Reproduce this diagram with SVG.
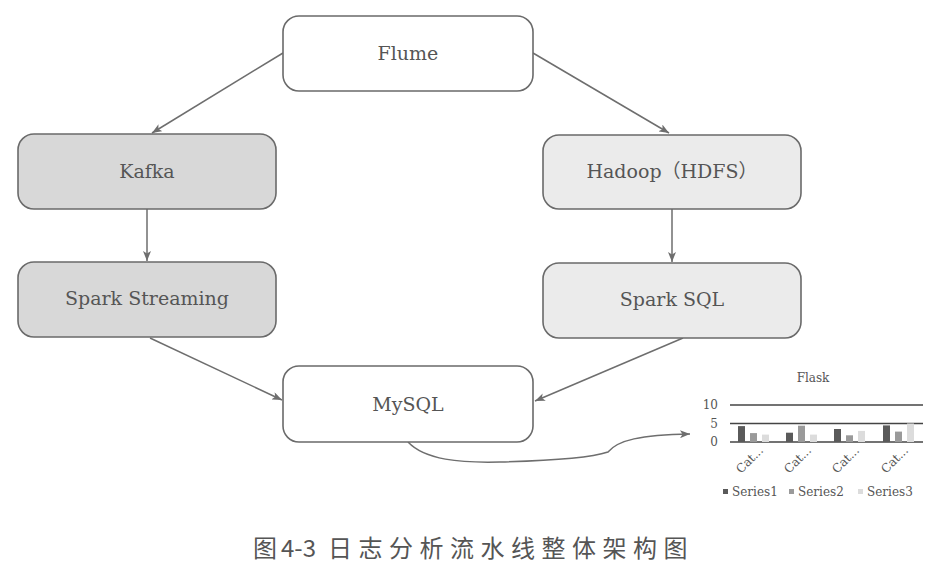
<svg xmlns="http://www.w3.org/2000/svg" width="937" height="576" viewBox="0 0 937 576">
<defs>
<style>
.node rect{stroke:#6a6a6a;stroke-width:1.6}
.white{fill:#ffffff}
.dark{fill:#d8d8d8}
.light{fill:#ebebeb}
.lbl{font-family:"DejaVu Serif","Noto Sans CJK SC",serif;font-size:19px;fill:#555;text-anchor:middle;dominant-baseline:central}
.conn path,.conn line{stroke:#6e6e6e;stroke-width:1.5;fill:none}
.ch{font-family:"DejaVu Serif",serif;font-size:12px;fill:#555}
.grid{stroke:#444;stroke-width:1.6}
.s1{fill:#5a5a5a}
.s2{fill:#9a9a9a}
.s3{fill:#dcdcdc}
.cap{font-family:"Noto Sans CJK SC","Noto Sans",sans-serif;font-size:24px;fill:#555}
</style>
<marker id="arr" viewBox="0 0 10 8" refX="10" refY="4" markerWidth="10" markerHeight="8" markerUnits="userSpaceOnUse" orient="auto">
<path d="M0,0 L10,4 L0,8 L2.5,4 Z" fill="#6e6e6e"/>
</marker>
</defs>
<rect width="937" height="576" fill="#ffffff"/>

<g class="conn">
<line x1="283" y1="53" x2="152" y2="133" marker-end="url(#arr)"/>
<line x1="533" y1="53" x2="669" y2="133" marker-end="url(#arr)"/>
<line x1="147" y1="209" x2="147" y2="261" marker-end="url(#arr)"/>
<line x1="672" y1="209" x2="672" y2="262" marker-end="url(#arr)"/>
<line x1="150" y1="338" x2="282" y2="400" marker-end="url(#arr)"/>
<line x1="683" y1="338" x2="535" y2="401" marker-end="url(#arr)"/>
<path d="M408,442 C425,460 460,463 500,462 S590,458 608,452 C618,440 640,435 690,434" marker-end="url(#arr)"/>
</g>

<g id="flume" class="node"><rect class="white" x="283" y="16" width="250" height="75" rx="16"/><text class="lbl" x="408" y="53">Flume</text></g>
<g id="kafka" class="node"><rect class="dark" x="18" y="134" width="258" height="75" rx="16"/><text class="lbl" x="147" y="171">Kafka</text></g>
<g id="hadoop" class="node"><rect class="light" x="543" y="135" width="258" height="74" rx="16"/><text class="lbl" x="672" y="171">Hadoop（HDFS）</text></g>
<g id="sparkstreaming" class="node"><rect class="dark" x="18" y="262" width="258" height="75" rx="16"/><text class="lbl" x="147" y="298">Spark Streaming</text></g>
<g id="sparksql" class="node"><rect class="light" x="543" y="263" width="258" height="75" rx="16"/><text class="lbl" x="672" y="299">Spark SQL</text></g>
<g id="mysql" class="node"><rect class="white" x="283" y="366" width="250" height="76" rx="16"/><text class="lbl" x="408" y="404">MySQL</text></g>

<g id="flask">
<text class="ch" x="813" y="382" text-anchor="middle" font-size="11">Flask</text>
<line class="grid" x1="730" y1="405" x2="923" y2="405"/>
<line class="grid" x1="730" y1="423.5" x2="923" y2="423.5"/>
<line class="grid" x1="730" y1="442" x2="923" y2="442"/>
<text class="ch" x="718" y="409" text-anchor="end">10</text>
<text class="ch" x="718" y="428" text-anchor="end">5</text>
<text class="ch" x="718" y="446" text-anchor="end">0</text>
<rect class="s1" x="738" y="426.1" width="7" height="15.9"/>
<rect class="s2" x="750" y="433.1" width="7" height="8.9"/>
<rect class="s3" x="762" y="434.6" width="7" height="7.4"/>
<rect class="s1" x="786" y="432.7" width="7" height="9.3"/>
<rect class="s2" x="798" y="425.7" width="7" height="16.3"/>
<rect class="s3" x="810" y="434.6" width="7" height="7.4"/>
<rect class="s1" x="834" y="429" width="7" height="13"/>
<rect class="s2" x="846" y="435.3" width="7" height="6.7"/>
<rect class="s3" x="858" y="430.9" width="7" height="11.1"/>
<rect class="s1" x="883" y="425.4" width="7" height="16.6"/>
<rect class="s2" x="895" y="431.6" width="7" height="10.4"/>
<rect class="s3" x="907" y="423.5" width="7" height="18.5"/>
<text class="ch" text-anchor="end" transform="translate(764,451) rotate(-45)">Cat...</text>
<text class="ch" text-anchor="end" transform="translate(812,451) rotate(-45)">Cat...</text>
<text class="ch" text-anchor="end" transform="translate(860,451) rotate(-45)">Cat...</text>
<text class="ch" text-anchor="end" transform="translate(909,451) rotate(-45)">Cat...</text>
<rect class="s1" x="723" y="489" width="5" height="5"/>
<text class="ch" x="732" y="496">Series1</text>
<rect class="s2" x="789" y="489" width="5" height="5"/>
<text class="ch" x="798" y="496">Series2</text>
<rect class="s3" x="858" y="489" width="5" height="5"/>
<text class="ch" x="867" y="496">Series3</text>
</g>

<g id="caption">
<text class="cap" x="253" y="557">图</text>
<text class="cap" x="281" y="557">4-3</text>
<text class="cap" x="328" y="557" letter-spacing="6.5">日志分析流水线整体架构图</text>
</g>
</svg>
